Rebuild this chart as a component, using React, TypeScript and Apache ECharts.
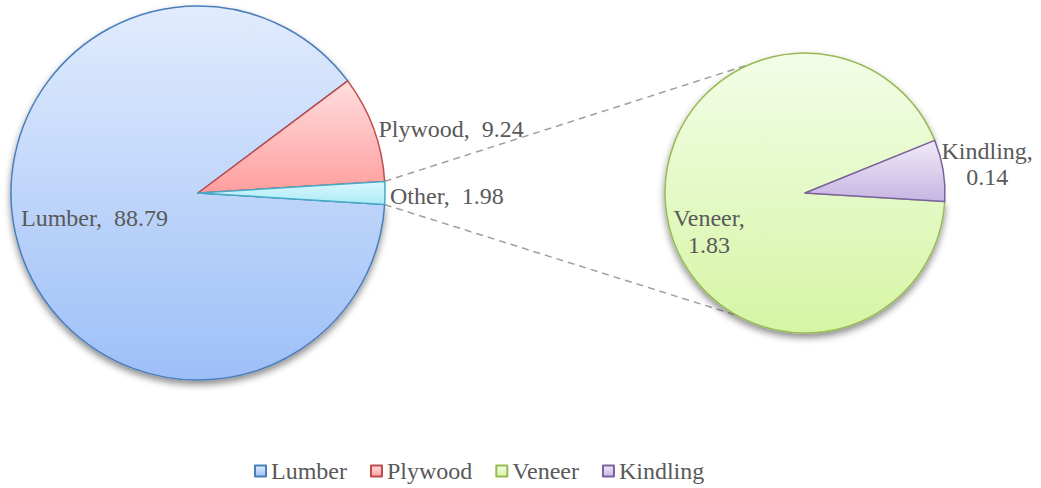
import React, { useEffect, useRef } from "react";
import * as echarts from "echarts";

// ---- data ----
const mainCategories = ["Lumber", "Plywood", "Other"];
const mainValues = [88.79, 9.24, 1.98];
const subCategories = ["Veneer", "Kindling"];
const subValues = [1.83, 0.14];
const legendItems = ["Lumber", "Plywood", "Veneer", "Kindling"];

// ---- styles ----
const FONT = "'Times New Roman', 'Liberation Serif', serif";
const TEXT = "#595959";
const fills: Record<string, [string, string, string]> = {
  Lumber: ["#e1ecfd", "#9dbff7", "#4a7ebb"],
  Plywood: ["#ffdede", "#ff9e9e", "#be4b48"],
  Other: ["#dcf7fd", "#a9ebf7", "#46aac5"],
  Veneer: ["#f3fde8", "#d5f5a4", "#98b954"],
  Kindling: ["#f0eaf8", "#c6b6e2", "#7d60a0"],
};

const C1 = [198, 193];
const R1 = 187;
const C2 = [805, 193];
const R2 = 140;

function itemStyle(name: string, shadow: boolean) {
  const [top, bottom, border] = fills[name];
  const s: any = {
    color: new echarts.graphic.LinearGradient(0, 0, 0, 1, [
      { offset: 0, color: top },
      { offset: 1, color: bottom },
    ]),
    borderColor: border,
    borderWidth: 1.5,
  };
  if (shadow) {
    s.shadowBlur = 7;
    s.shadowOffsetY = 4;
    s.shadowColor = "rgba(0,0,0,0.45)";
  }
  return s;
}

export default function App() {
  const ref = useRef<HTMLDivElement>(null);
  useEffect(() => {
    if (!ref.current) return;
    const chart = echarts.init(ref.current, undefined, { renderer: "svg" });

    const mainTotal = mainValues.reduce((a, b) => a + b, 0);
    const otherAngle = (mainValues[2] / mainTotal) * 360;
    const mainStart = -otherAngle / 2;
    const subStart = -3.5;

    const a1 = (otherAngle / 2) * (Math.PI / 180);
    const p1Top = [C1[0] + R1 * Math.cos(a1), C1[1] - R1 * Math.sin(a1)];
    const p1Bot = [C1[0] + R1 * Math.cos(a1), C1[1] + R1 * Math.sin(a1)];
    const t2 = (113 * Math.PI) / 180;
    const b2 = (241 * Math.PI) / 180;
    const p2Top = [C2[0] + R2 * Math.cos(t2), C2[1] - R2 * Math.sin(t2)];
    const p2Bot = [C2[0] + R2 * Math.cos(b2), C2[1] - R2 * Math.sin(b2)];

    const lineStyle = { stroke: "#9f9f9f", lineWidth: 1.5, lineDash: [7, 5] };

    chart.setOption({
      animation: false,
      backgroundColor: "#ffffff",
      legend: {
        data: legendItems,
        left: 249,
        top: 454,
        icon: "rect",
        itemWidth: 11,
        itemHeight: 11,
        itemGap: 23,
        textStyle: { fontFamily: FONT, fontSize: 24, color: TEXT },
      },
      graphic: [
        {
          type: "line",
          z: -1,
          shape: { x1: p1Top[0], y1: p1Top[1], x2: p2Top[0], y2: p2Top[1] },
          style: lineStyle,
        },
        {
          type: "line",
          z: -1,
          shape: { x1: p1Bot[0], y1: p1Bot[1], x2: p2Bot[0], y2: p2Bot[1] },
          style: lineStyle,
        },
      ],
      series: [
        {
          type: "pie",
          center: C1,
          radius: R1,
          clockwise: true,
          startAngle: mainStart,
          avoidLabelOverlap: false,
          label: {
            show: true,
            position: "outside",
            formatter: "{b},  {c}",
            fontFamily: FONT,
            fontSize: 24,
            color: TEXT,
            distanceToLabelLine: 5,
          },
          labelLine: { show: false, length: 0, length2: 0 },
          labelLayout: (p: any) =>
            p.dataIndex === 0 ? { dx: -11, dy: -3 } : p.dataIndex === 1 ? { dy: 1 } : { dy: 3 },
          emphasis: { disabled: true },
          data: mainCategories.map((n, i) => ({
            name: n,
            value: mainValues[i],
            itemStyle: itemStyle(n, i === 0),
            label: i === 0 ? { position: "inside" } : undefined,
          })),
        },
        {
          type: "pie",
          center: C2,
          radius: R2,
          clockwise: true,
          startAngle: subStart,
          avoidLabelOverlap: false,
          label: {
            show: true,
            fontFamily: FONT,
            fontSize: 24,
            color: TEXT,
            lineHeight: 27,
            distanceToLabelLine: 0,
          },
          labelLine: { show: false, length: 0, length2: 0 },
          labelLayout: (p: any) =>
            p.dataIndex === 0 ? { dx: -24, dy: 27 } : { dx: -3, dy: -6 },
          emphasis: { disabled: true },
          data: subCategories.map((n, i) => ({
            name: n,
            value: subValues[i],
            itemStyle: itemStyle(n, i === 0),
            label:
              i === 0
                ? { position: "inside", formatter: "{b},\n{c}" }
                : {
                    position: "outside",
                    formatter: "{a|{b},}\n{a|{c}}",
                    rich: {
                      a: {
                        width: 94,
                        align: "center",
                        fontFamily: FONT,
                        fontSize: 24,
                        color: TEXT,
                        lineHeight: 26,
                      },
                    },
                  },
          })),
        },
      ],
    });
    return () => chart.dispose();
  }, []);
  return (
    <div
      ref={ref}
      style={{ position: "absolute", left: 0, top: 0, width: 1041, height: 488 }}
    />
  );
}
